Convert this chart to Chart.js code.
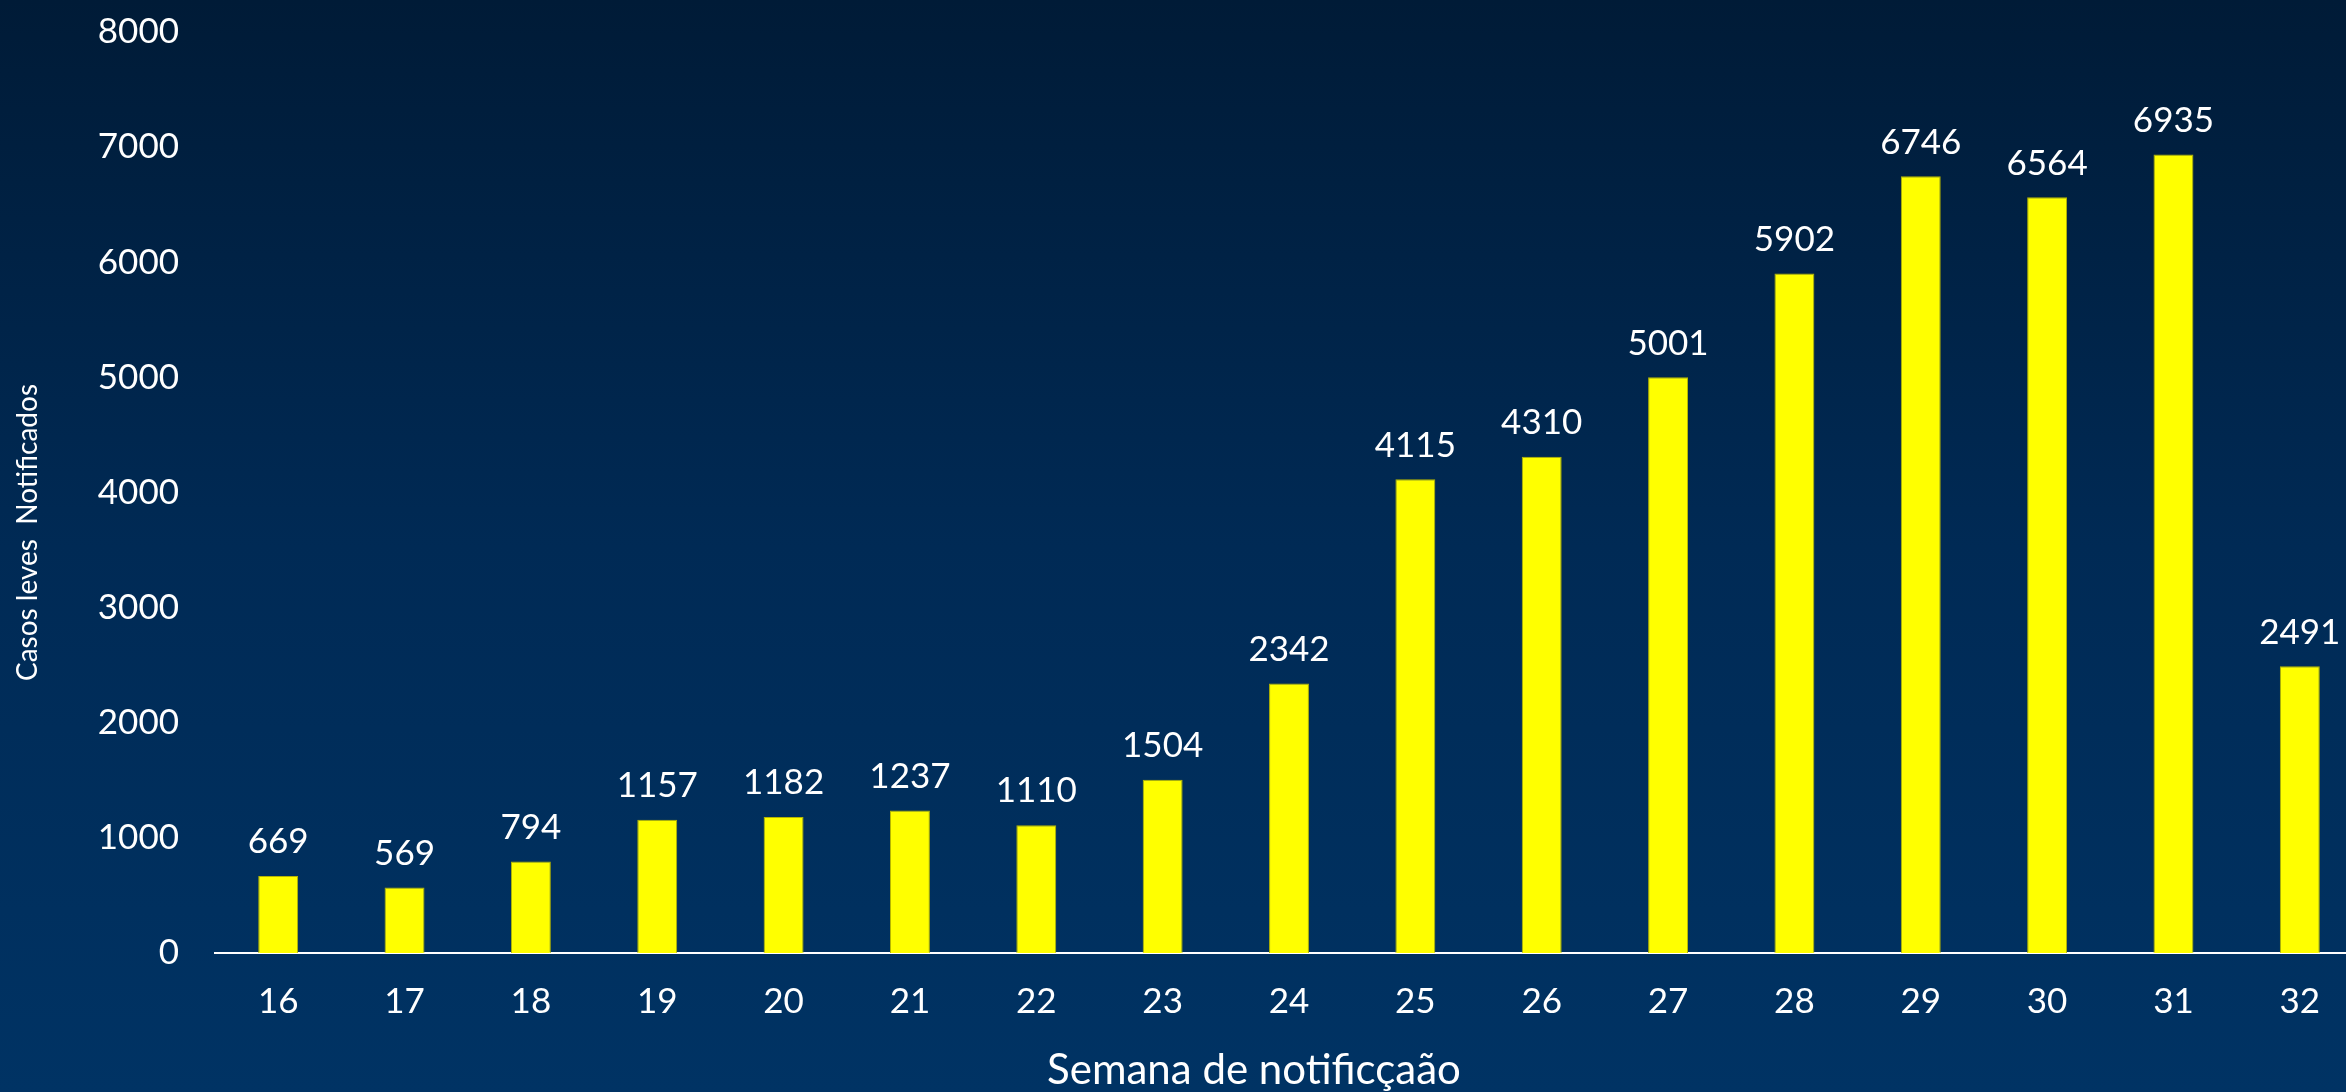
<!DOCTYPE html>
<html>
<head>
<meta charset="utf-8">
<script src="https://cdn.jsdelivr.net/npm/chart.js@4/dist/chart.umd.min.js"></script>
<style>
html, body { margin: 0; padding: 0; width: 2346px; height: 1092px; overflow: hidden;
  background: linear-gradient(to bottom, #001b37 0%, #002a55 50%, #003364 100%); }
canvas { display: block; }
</style>
</head>
<body>
<canvas id="c" width="2363" height="1092" style="width:2363px;height:1092px"></canvas>
<script>
const categories = ["16","17","18","19","20","21","22","23","24","25","26","27","28","29","30","31","32"];
const casosLeves = [669, 569, 794, 1157, 1182, 1237, 1110, 1504, 2342, 4115, 4310, 5001, 5902, 6746, 6564, 6935, 2491];
const yTicks = [0, 1000, 2000, 3000, 4000, 5000, 6000, 7000, 8000];
const xTitle = "Semana de notificçaão";
const yTitle = "Casos leves  Notificados";

const FONT = "Lato, 'Open Sans', sans-serif";

const labelPlugin = {
  id: 'labels',
  afterDatasetsDraw(chart) {
    const ctx = chart.ctx;
    const meta = chart.getDatasetMeta(0);
    ctx.save();
    ctx.fillStyle = '#ffffff';
    ctx.font = "400 35px " + FONT;
    ctx.textAlign = 'center';
    ctx.textBaseline = 'middle';
    meta.data.forEach((bar, i) => {
      ctx.fillText(String(casosLeves[i]), bar.x, bar.y - 34);
    });
    ctx.restore();
  },
  afterDraw(chart) {
    const ctx = chart.ctx;
    const a = chart.chartArea;
    ctx.save();
    ctx.fillStyle = '#ffffff';
    ctx.textAlign = 'center';
    ctx.textBaseline = 'middle';
    ctx.font = "400 42px " + FONT;
    ctx.fillText(xTitle, (a.left + a.right) / 2 - 35, a.bottom + 117);
    ctx.translate(28, (a.top + a.bottom) / 2 + 40);
    ctx.rotate(-Math.PI / 2);
    ctx.font = "400 28px " + FONT;
    ctx.fillText(yTitle, 0, 0);
    ctx.restore();
  }
};

new Chart(document.getElementById('c'), {
  type: 'bar',
  data: {
    labels: categories,
    datasets: [{
      data: casosLeves,
      backgroundColor: '#ffff00',
      borderColor: '#b5b500',
      borderWidth: 1,
      categoryPercentage: 1,
      barPercentage: 0.316
    }]
  },
  options: {
    responsive: false,
    animation: false,
    devicePixelRatio: 1,
    layout: { padding: { left: 0, right: 0, top: 32, bottom: 0 } },
    plugins: { legend: { display: false }, tooltip: { enabled: false } },
    scales: {
      x: {
        grid: { display: false },
        border: { display: true, color: '#ffffff', width: 2 },
        ticks: { color: '#ffffff', font: { family: FONT, size: 35, weight: 400 }, padding: 20, maxRotation: 0 },
        afterFit(s) { s.height = 139; s.paddingLeft = 0; s.paddingRight = 0; }
      },
      y: {
        min: 0, max: 8000,
        grid: { display: false, drawTicks: false },
        border: { display: false },
        afterBuildTicks(s) { s.ticks = yTicks.map(v => ({ value: v })); },
        ticks: { color: '#ffffff', font: { family: FONT, size: 35, weight: 400 }, padding: 36,
                 callback: (v) => String(v) },
        afterFit(s) { s.width = 215; s.paddingTop = 0; s.paddingBottom = 0; }
      }
    }
  },
  plugins: [labelPlugin]
});
</script>
</body>
</html>
